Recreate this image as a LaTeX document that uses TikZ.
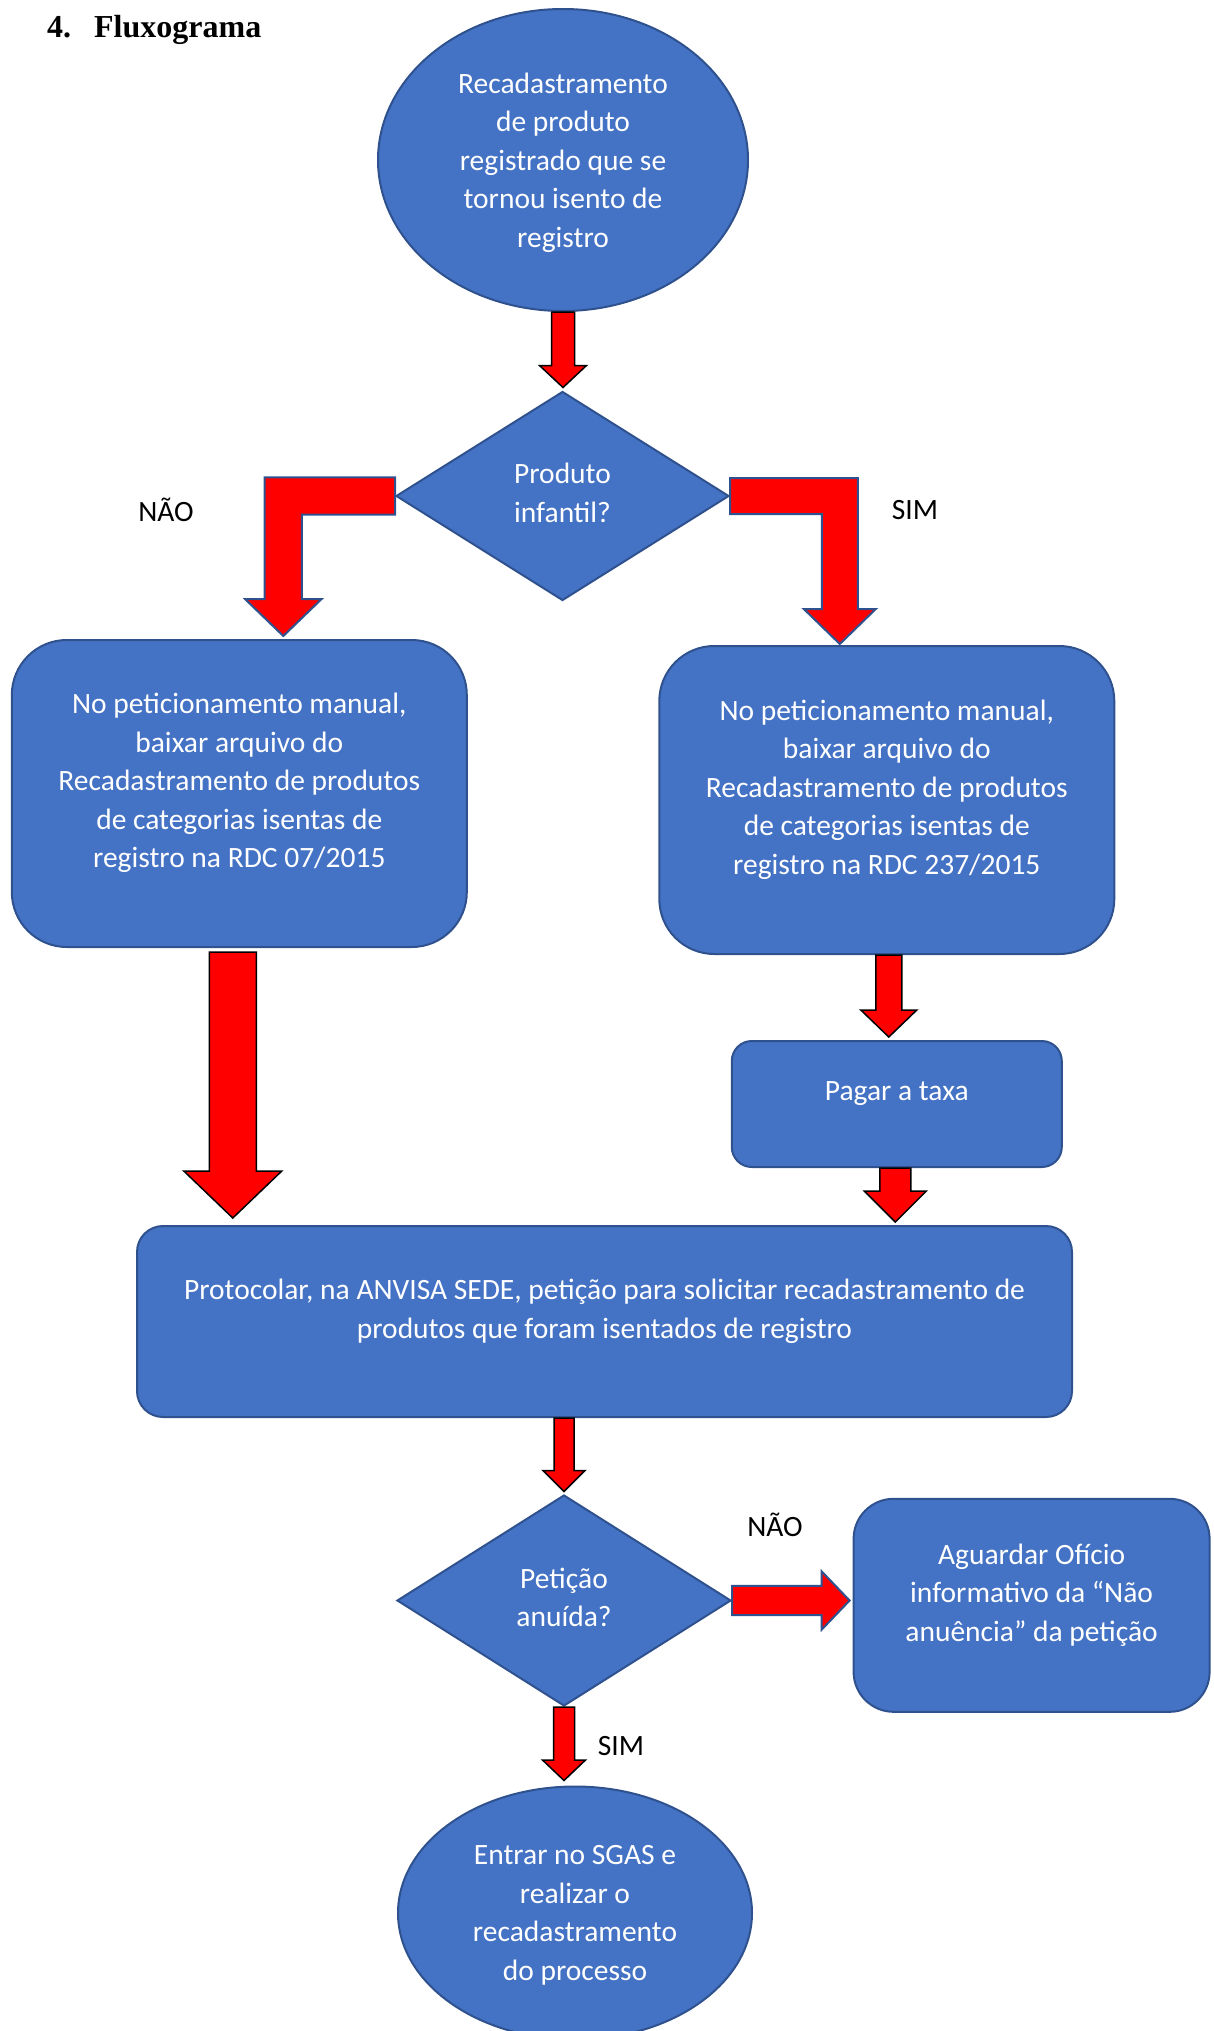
\documentclass[tikz,border=0pt]{standalone}
\usepackage{fontspec}
\setmainfont{Carlito}
\newfontfamily\headfont{Liberation Serif}
\usetikzlibrary{shapes.geometric,calc}
\definecolor{boxblue}{HTML}{4472C4}
\definecolor{boxline}{HTML}{2F528F}
\definecolor{arrowred}{HTML}{FF0000}
\tikzset{
    blueshape/.style={fill=boxblue, draw=boxline, line width=2pt, text=white, align=center, inner sep=0pt, font=\fontsize{29.5}{38.5}\selectfont},
    oval/.style={blueshape, ellipse, text depth=0pt},
    decision/.style={blueshape, diamond, aspect=1.6, text depth=6pt},
    card/.style={blueshape, rectangle, text depth=26pt},
    lbl/.style={font=\fontsize{29.5}{38.5}\selectfont, inner sep=0pt},
    redblack/.style={fill=arrowred, draw=black, line width=1.5pt},
    redblue/.style={fill=arrowred, draw=boxline, line width=2pt}
}
% block arrows: style, from, to, (sign), shaft half width, head half width, head length
\newcommand\downblock[6]{%
    \filldraw[#1] let \p1=(#2), \p2=(#3) in
        (\x1-#4,\y1) -- (\x1-#4,\y2+#6) -- (\x1-#5,\y2+#6) -- (\x1,\y2)
        -- (\x1+#5,\y2+#6) -- (\x1+#4,\y2+#6) -- (\x1+#4,\y1) -- cycle;}
\newcommand\rightblock[6]{%
    \filldraw[#1] let \p1=(#2), \p2=(#3) in
        (\x1,\y1+#4) -- (\x2-#6,\y1+#4) -- (\x2-#6,\y1+#5) -- (\x2,\y1)
        -- (\x2-#6,\y1-#5) -- (\x2-#6,\y1-#4) -- (\x1,\y1-#4) -- cycle;}
\newcommand\bentblock[7]{%
    \filldraw[#1] let \p1=(#2), \p2=(#3) in
        (\x1,\y1+#5) -- ({\x2+#4*#5},\y1+#5) -- ({\x2+#4*#5},\y2+#7) -- ({\x2+#4*#6},\y2+#7)
        -- (\x2,\y2) -- ({\x2-#4*#6},\y2+#7) -- ({\x2-#4*#5},\y2+#7) -- ({\x2-#4*#5},\y1-#5)
        -- (\x1,\y1-#5) -- cycle;}
\begin{document}
\begin{tikzpicture}[x=1pt, y=-1pt]
    \useasboundingbox (0,0) rectangle (1213,2031);
    % Title
    \node[anchor=base west, inner sep=0pt, font=\headfont\bfseries\fontsize{32}{38}\selectfont] (title) at (47, 38) {4.\hspace{23pt}Fluxograma};
    % Shapes
    \node[oval, minimum width=370pt, minimum height=302pt] (start) at (563, 160) {Recadastramento\\de produto\\registrado que se\\tornou isento de\\registro};
    \node[decision, minimum width=333pt, minimum height=209pt] (q1) at (562.5, 496) {Produto\\infantil?};
    \node[card, rounded corners=55pt, minimum width=455pt, minimum height=307pt] (lbox) at (239.3, 793.5) {No peticionamento manual,\\baixar arquivo do\\Recadastramento de produtos\\de categorias isentas de\\registro na RDC 07/2015};
    \node[card, rounded corners=55pt, minimum width=455pt, minimum height=308pt] (rbox) at (886.8, 800) {No peticionamento manual,\\baixar arquivo do\\Recadastramento de produtos\\de categorias isentas de\\registro na RDC 237/2015};
    \node[card, rounded corners=20pt, minimum width=330pt, minimum height=126pt] (pagar) at (896.8, 1104) {Pagar a taxa};
    \node[card, rounded corners=26pt, minimum width=935pt, minimum height=191pt] (proto) at (604.5, 1321.5) {Protocolar, na ANVISA SEDE, petição para solicitar recadastramento de\\produtos que foram isentados de registro};
    \node[decision, minimum width=334pt, minimum height=211pt] (q2) at (564, 1600.5) {Petição\\anuída?};
    \node[card, rounded corners=40pt, minimum width=356pt, minimum height=213pt] (agu) at (1031.6, 1605.3) {Aguardar Ofício\\informativo da “Não\\anuência” da petição};
    \node[oval, minimum width=354pt, minimum height=253pt] (end) at (575, 1913) {Entrar no SGAS e\\realizar o\\recadastramento\\do processo};
    % Arrows
    \downblock{redblack}{start.south}{$(q1.north)+(0,-3)$}{11.5pt}{23.5pt}{22pt}
    \bentblock{redblue}{q1.west}{$(lbox.north)+(44,-3)$}{-1}{18.6pt}{38.3pt}{37pt}
    \bentblock{redblue}{q1.east}{$(rbox.north)+(-47,-1)$}{1}{18pt}{36pt}{35pt}
    \downblock{redblack}{$(lbox.south)+(-6.5,4)$}{$(proto.north)+(0,-7)$}{23.5pt}{49pt}{47pt}
    \downblock{redblack}{$(rbox.south)+(2,0)$}{$(pagar.north)+(0,-3)$}{13pt}{28pt}{27pt}
    \downblock{redblack}{$(pagar.south)+(-1.5,0)$}{$(proto.north)+(0,-3)$}{15.5pt}{31pt}{31pt}
    \downblock{redblack}{q2.north |- proto.south}{$(q2.north)+(0,-2.5)$}{10pt}{21pt}{21pt}
    \rightblock{redblue}{q2.east}{$(agu.west)+(-3,0)$}{14.7pt}{29.2pt}{28pt}
    \downblock{redblack}{q2.south}{$(end.north)+(0,-5)$}{10.5pt}{21.5pt}{20.5pt}
    % Labels
    \node[lbl] (nao1) at (166, 510) {NÃO};
    \node[lbl] (sim1) at (915, 510) {SIM};
    \node[lbl] (nao2) at (775, 1525) {NÃO};
    \node[lbl] (sim2) at (621, 1746) {SIM};
\end{tikzpicture}
\end{document}
